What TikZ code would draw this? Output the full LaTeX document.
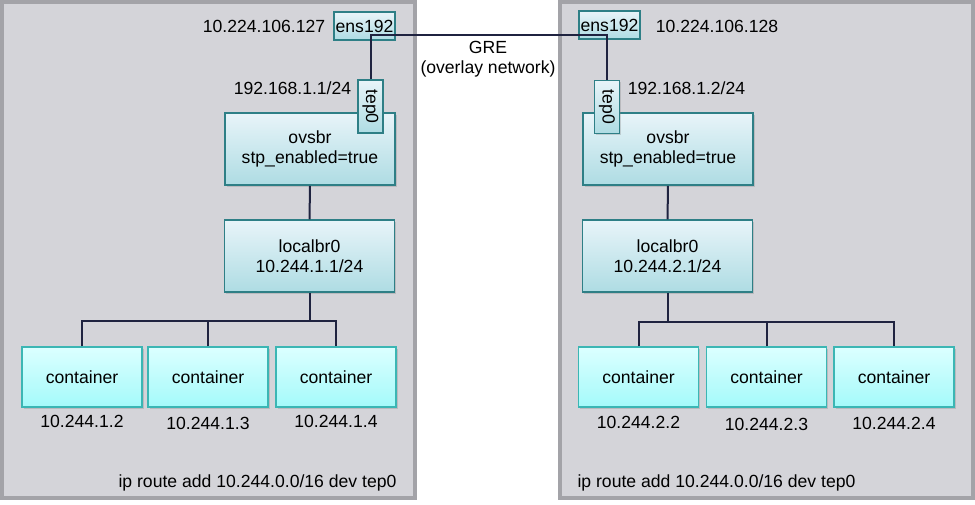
\documentclass[tikz,border=0pt]{standalone}
\usepackage{fontspec}
\setmainfont{Liberation Sans}
\usetikzlibrary{positioning,shadows}
\definecolor{hostfill}{HTML}{D4D4D9}
\definecolor{hostline}{HTML}{A3A3A8}
\definecolor{brtop}{HTML}{E8F4F9}
\definecolor{brbot}{HTML}{AEDCE3}
\definecolor{brline}{HTML}{2E7F86}
\definecolor{ctop}{HTML}{DCFFFF}
\definecolor{cbot}{HTML}{A4FAFA}
\definecolor{cline}{HTML}{3BB6B4}
\definecolor{linkc}{HTML}{1F2340}
\begin{document}
\begin{tikzpicture}[x=1pt,y=-1pt,every node/.style={font=\fontsize{17.6}{20.5}\selectfont}]
% Estilos
\tikzset{
  host/.style={rectangle, draw=hostline, fill=hostfill, line width=4pt, minimum width=413, minimum height=496},
  bridge/.style={rectangle, draw=brline, line width=1.5pt, top color=brtop, bottom color=brbot, minimum width=170, minimum height=72, align=center, drop shadow={shadow xshift=1.5pt, shadow yshift=-1.5pt, opacity=0.3}},
  port/.style={rectangle, draw=brline, line width=1.2pt, top color=brtop, bottom color=brbot, inner sep=0pt, minimum width=61, minimum height=28, drop shadow={shadow xshift=1pt, shadow yshift=-1pt, opacity=0.3}},
  container/.style={rectangle, draw=cline, line width=1.5pt, top color=ctop, bottom color=cbot, minimum width=120, minimum height=60, drop shadow={shadow xshift=1.5pt, shadow yshift=-1.5pt, opacity=0.3}},
  lbl/.style={inner sep=0pt},
  link/.style={draw=linkc, line width=2pt}
}
\useasboundingbox (0,0) rectangle (975,504);

% Hosts
\node[host] (hostL) at (208.5,250) {};
\node[host] (hostR) at (766,250) {};

% Interfaces de rede
\node[port] (ensL) at (364.5,26) {ens192};
\node[port] (ensR) at (609.5,25) {ens192};
\node[lbl] (addrL) at (264,26) {10.224.106.127};
\node[lbl] (addrR) at (717,26) {10.224.106.128};

% Bridges OVS
\node[bridge] (ovsL) at (310,149) {ovsbr\\stp\_enabled=true};
\node[bridge] (ovsR) at (668,149) {ovsbr\\stp\_enabled=true};

% Portas tep0
\node[port, rotate=-90, minimum width=53, minimum height=25] (tepL) at (370.5,106.5) {tep0};
\node[port, rotate=-90, minimum width=53, minimum height=25] (tepR) at (607,107) {tep0};
\node[lbl] (tepaddrL) at (292.5,88) {192.168.1.1/24};
\node[lbl] (tepaddrR) at (686.5,88) {192.168.1.2/24};

% Bridges locais
\node[bridge] (localL) at (309.5,256) {localbr0\\10.244.1.1/24};
\node[bridge] (localR) at (667.5,256) {localbr0\\10.244.2.1/24};

% Containers
\node[container] (cL1) at (82,377) {container};
\node[container] (cL2) at (208,377) {container};
\node[container] (cL3) at (336,377) {container};
\node[container] (cR1) at (638.5,377) {container};
\node[container] (cR2) at (766.5,377) {container};
\node[container] (cR3) at (894,377) {container};

\node[lbl, below=7pt of cL1] (ipL1) {10.244.1.2};
\node[lbl, below=9pt of cL2] (ipL2) {10.244.1.3};
\node[lbl, below=7pt of cL3] (ipL3) {10.244.1.4};
\node[lbl, below=8pt of cR1] (ipR1) {10.244.2.2};
\node[lbl, below=10pt of cR2] (ipR2) {10.244.2.3};
\node[lbl, below=9pt of cR3] (ipR3) {10.244.2.4};

% Rotas
\node[lbl] (routeL) at (257.5,483) {ip route add 10.244.0.0/16 dev tep0};
\node[lbl] (routeR) at (716.5,483) {ip route add 10.244.0.0/16 dev tep0};

% Tunel GRE
\coordinate (tunnel) at (488,34.5);
\node[lbl, align=center] (gre) at (488,59) {GRE\\(overlay network)};
\draw[link] (tepL.west) |- (tunnel) -| (tepR.west);

% Ligacoes
\draw[link] (ovsL) -- (localL);
\draw[link] (ovsR) -- (localR);

\coordinate (busL) at (309.5,321);
\coordinate (busR) at (667.5,322);
\draw[link] (localL) -- (busL);
\draw[link] (cL1.north) |- (busL) -| (cL3.north);
\draw[link] (cL2) -- (cL2 |- busL);
\draw[link] (localR) -- (busR);
\draw[link] (cR1.north) |- (busR) -| (cR3.north);
\draw[link] (cR2) -- (cR2 |- busR);

\end{tikzpicture}
\end{document}
